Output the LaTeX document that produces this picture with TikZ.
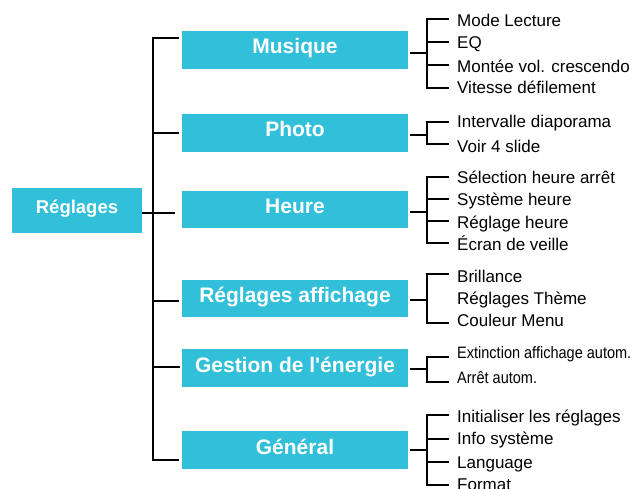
\documentclass[tikz,border=0pt]{standalone}
\usepackage{fontspec}
\setmainfont{Liberation Sans}
\definecolor{boxcyan}{RGB}{50,191,218}
\begin{document}
\begin{tikzpicture}[x=1pt,y=-1pt,
  catbox/.style={fill=boxcyan,draw=none,minimum width=226pt,minimum height=37.5pt,inner sep=0pt,
    text=white,font=\fontsize{21}{24}\selectfont\bfseries,text height=15pt,text depth=7pt},
  rootbox/.style={fill=boxcyan,draw=none,minimum width=130pt,minimum height=45pt,inner sep=0pt,
    text=white,font=\fontsize{18.5}{22}\selectfont\bfseries,text height=13.3pt,text depth=6.5pt},
  item/.style={anchor=west,inner xsep=8pt,inner ysep=0pt,font=\fontsize{17}{20}\selectfont,text height=12.2pt,text depth=0pt},
  smallitem/.style={anchor=west,inner xsep=8pt,inner ysep=0pt,font=\fontsize{16.5}{20}\selectfont,text height=11.8pt,text depth=0pt},
  conn/.style={draw=black,line width=2pt},
]
\useasboundingbox (0,0) rectangle (634,489);

% root and categories
\node[rootbox] (root) at (77,210.5) {Réglages};
\node[catbox] (mus) at (295,50) {Musique};
\node[catbox] (pho) at (295,133) {Photo};
\node[catbox] (heu) at (295,209.5) {Heure};
\node[catbox] (aff) at (295,298.5) {Réglages affichage};
\node[catbox] (ene) at (295,368) {Gestion de l\textquotesingle énergie};
\node[catbox] (gen) at (295,450) {Général};

% trunk
\coordinate (tT) at (153,38);
\coordinate (tB) at (153,460);
\draw[conn] ([xshift=-3pt]mus.west |- tT) -- (tT) -- (tB) -- ([xshift=-3pt]gen.west |- tB);
\draw[conn] (root.east |- 0,212.5) -- ([xshift=-7pt]heu.west |- 0,212.5);
\draw[conn] (153,133) -- ([xshift=-3pt]pho.west |- 0,133);
\draw[conn] (153,301) -- ([xshift=-3pt]aff.west |- 0,301);
\draw[conn] (153,367) -- ([xshift=-2pt]ene.west |- 0,367);

% Musique items
\node[item] (m1) at (449,20) {Mode Lecture};
\node[item] (m2) at (449,42.5) {EQ};
\node[item] (m3) at (449,66) {Montée vol. crescendo};
\node[item] (m4) at (449,87.5) {Vitesse défilement};
\draw[conn] ([xshift=2pt]mus.east |- 0,53) -- (427,53);
\draw[conn] (449,19) -- (427,19) -- (427,88) -- (449,88);
\draw[conn] (427,42) -- (449,42);
\draw[conn] (427,65) -- (449,65);

% Photo items
\node[item] (p1) at (449,121) {Intervalle diaporama};
\node[item] (p2) at (449,146) {Voir 4 slide};
\draw[conn] ([xshift=2pt]pho.east |- 0,135) -- (427,135);
\draw[conn] (449,122) -- (427,122) -- (427,144) -- (449,144);

% Heure items
\node[item] (h1) at (449,177) {Sélection heure arrêt};
\node[item] (h2) at (449,199) {Système heure};
\node[item] (h3) at (449,222) {Réglage heure};
\node[item] (h4) at (449,244) {Écran de veille};
\draw[conn] ([xshift=2pt]heu.east |- 0,212) -- (427,212);
\draw[conn] (449,177) -- (427,177) -- (427,243) -- (449,243);
\draw[conn] (427,199) -- (449,199);
\draw[conn] (427,221) -- (449,221);

% Affichage items
\node[item] (a1) at (449,276.5) {Brillance};
\node[item] (a2) at (449,298.5) {Réglages Thème};
\node[item] (a3) at (449,320.5) {Couleur Menu};
\draw[conn] ([xshift=2pt]aff.east |- 0,300) -- (427,300);
\draw[conn] (449,274) -- (427,274) -- (427,323) -- (449,323);

% Energie items
\node[smallitem] (e1) at (449,353) {\scalebox{0.88}[1]{Extinction affichage autom.}};
\node[smallitem] (e2) at (449,377.5) {\scalebox{0.88}[1]{Arrêt autom.}};
\draw[conn] ([xshift=2pt]ene.east |- 0,369) -- (427,369);
\draw[conn] (449,357) -- (427,357) -- (427,382) -- (449,382);

% General items
\node[item] (g1) at (449,416) {Initialiser les réglages};
\node[item] (g2) at (449,438.5) {Info système};
\node[item] (g3) at (449,462) {Language};
\node[item] (g4) at (449,484) {Format};
\draw[conn] ([xshift=2pt]gen.east |- 0,450) -- (427,450);
\draw[conn] (449,415) -- (427,415) -- (427,485) -- (449,485);
\draw[conn] (427,439) -- (449,439);
\draw[conn] (427,462) -- (449,462);
\end{tikzpicture}
\end{document}
